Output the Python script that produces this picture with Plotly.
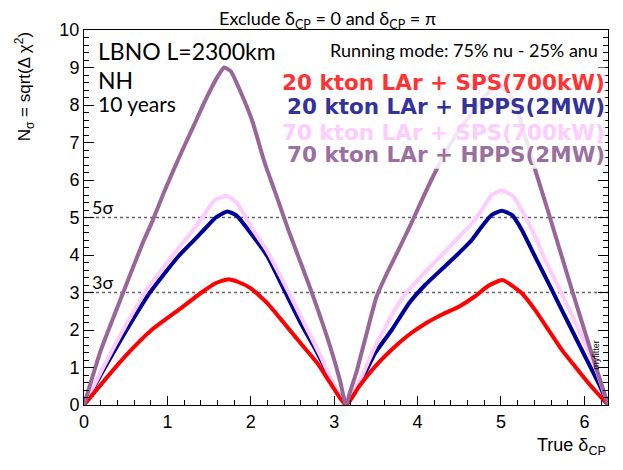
import plotly.graph_objects as go

PI = 3.14159
TWO_PI = 6.28319

# 20 kton LAr + SPS(700kW)
x_red = [0, 0.25, 0.49, 0.81, 1.13, 1.41, 1.57, 1.72, 1.85, 2.0, 2.2, 2.4, 2.6, 2.8, 2.95, PI,
         3.3, 3.5, 3.7, 3.9, 4.1, 4.3, 4.5, 4.69, 4.85, 5.02, 5.25, 5.41, 5.57, 5.73, 5.89, 6.05, TWO_PI]
y_red = [0, 0.67, 1.29, 2.0, 2.53, 3.0, 3.24, 3.35, 3.28, 3.11, 2.71, 2.18, 1.64, 1.11, 0.6, 0,
         0.5, 1.05, 1.5, 1.88, 2.18, 2.42, 2.63, 2.9, 3.18, 3.33, 2.98, 2.53, 2.0, 1.47, 1.02, 0.58, 0]

# 20 kton LAr + HPPS(2MW)
x_blue = [0, 0.25, 0.51, 0.79, 1.13, 1.3, 1.45, 1.58, 1.72, 1.83, 2.0, 2.2, 2.4, 2.6, 2.8, 2.96, PI,
          3.33, 3.49, 3.69, 3.9, 4.09, 4.29, 4.49, 4.65, 4.77, 4.89, 5.01, 5.13, 5.25, 5.37, 5.49,
          5.61, 5.73, 5.89, 6.05, 6.17, TWO_PI]
y_blue = [0, 1.0, 2.0, 3.0, 3.96, 4.35, 4.7, 5.0, 5.16, 5.05, 4.58, 3.96, 3.07, 2.18, 1.38, 0.67, 0,
          0.67, 1.38, 2.0, 2.72, 3.2, 3.62, 4.04, 4.4, 4.76, 5.07, 5.18, 5.07, 4.67, 4.13, 3.6,
          3.07, 2.53, 1.82, 1.11, 0.58, 0]

# 70 kton LAr + SPS(700kW)
x_pink = [0, 0.23, 0.47, 0.73, 1.07, 1.32, 1.42, 1.57, 1.72, 1.83, 2.0, 2.2, 2.44, 2.64, 2.84, 2.98, PI,
          3.33, 3.49, 3.61, 3.69, 3.85, 4.05, 4.29, 4.49, 4.65, 4.77, 4.89, 5.01, 5.15, 5.27, 5.41,
          5.53, 5.65, 5.81, 5.97, 6.13, TWO_PI]
y_pink = [0, 1.0, 2.0, 3.0, 4.0, 4.7, 5.0, 5.47, 5.57, 5.4, 4.76, 4.09, 3.07, 2.18, 1.29, 0.6, 0,
          0.76, 1.56, 2.05, 2.4, 2.95, 3.45, 4.0, 4.47, 4.84, 5.2, 5.6, 5.72, 5.56, 5.11, 4.49,
          3.87, 3.33, 2.58, 1.82, 1.02, 0]

# 70 kton LAr + HPPS(2MW)
x_purple = [0, 0.2, 0.47, 0.70, 0.81, 0.97, 1.14, 1.32, 1.46, 1.6, 1.68, 1.76, 1.86, 2.02, 2.16, 2.28,
            2.45, 2.72, 2.96, 3.07, PI, 3.19, 3.27, 3.37, 3.51, 3.63, 3.73, 3.85, 3.94, 4.09, 4.25,
            4.43, 4.62, 4.74, 4.86, 4.98, 5.08, 5.17, 5.29, 5.41, 5.56, 5.86, 6.07, TWO_PI]
y_purple = [0, 1.45, 3.0, 4.3, 4.85, 5.73, 6.6, 7.47, 8.15, 8.75, 9.0, 8.9, 8.44, 7.56, 6.5, 5.75,
            4.67, 3.07, 1.5, 0.65, 0, 0.35, 0.9, 1.75, 2.9, 3.5, 3.95, 4.5, 4.92, 5.65, 6.38,
            7.1, 7.7, 8.05, 8.35, 8.5, 8.35, 8.04, 7.16, 6.27, 5.2, 3.0, 1.5, 0]

labels = ['20 kton LAr + SPS(700kW)', '20 kton LAr + HPPS(2MW)',
          '70 kton LAr + SPS(700kW)', '70 kton LAr + HPPS(2MW)']
line_colors = ['#ff0000', '#000099', '#ffccff', '#996699']
text_colors = ['#ff3333', '#333399', '#ffccff', '#9a70a0']

sigma_levels = [5, 3]

fig = go.Figure()

series = [(x_blue, y_blue, 1), (x_pink, y_pink, 2), (x_red, y_red, 0), (x_purple, y_purple, 3)]
for xs, ys, i in series:
    fig.add_trace(go.Scatter(
        x=xs, y=ys, mode='lines', name=labels[i],
        line=dict(color=line_colors[i], width=4, shape='spline', smoothing=0.5),
        showlegend=False
    ))

# n-sigma reference lines
for s in sigma_levels:
    fig.add_shape(type='line', xref='x', yref='y', x0=0, x1=TWO_PI, y0=s, y1=s,
                  line=dict(color='#666666', width=1.5, dash='dot'), layer='below')
    fig.add_annotation(x=0.07, y=s, xref='x', yref='y', text=f'{s}σ', showarrow=False,
                       xanchor='left', yanchor='bottom', yshift=-2,
                       font=dict(family='Lato', size=18, color='black'))

# semi-transparent box behind legend text
fig.add_shape(type='rect', xref='paper', yref='paper', x0=0.374, x1=0.995, y0=0.63, y1=0.9,
              fillcolor='rgba(255,255,255,0.85)', line=dict(width=0), layer='above')

legend_y = [0.861, 0.795, 0.728, 0.667]
for i in range(4):
    fig.add_annotation(x=0.998, y=legend_y[i], xref='paper', yref='paper', text=f'<b>{labels[i]}</b>',
                       showarrow=False, xanchor='right', yanchor='middle',
                       font=dict(family='DejaVu Sans', size=21.5, color=text_colors[i]))

font_txt = 'Lato'
fig.add_annotation(x=0.022, y=0.945, xref='paper', yref='paper', text='LBNO L=2300km',
                   showarrow=False, xanchor='left', yanchor='middle',
                   font=dict(family=font_txt, size=23, color='black'))
fig.add_annotation(x=0.022, y=0.868, xref='paper', yref='paper', text='NH',
                   showarrow=False, xanchor='left', yanchor='middle',
                   font=dict(family=font_txt, size=23, color='black'))
fig.add_annotation(x=0.022, y=0.805, xref='paper', yref='paper', text='10 years',
                   showarrow=False, xanchor='left', yanchor='middle',
                   font=dict(family=font_txt, size=21, color='black'))
fig.add_annotation(x=0.985, y=0.947, xref='paper', yref='paper', text='Running mode: 75% nu - 25% anu',
                   showarrow=False, xanchor='right', yanchor='middle',
                   font=dict(family=font_txt, size=18, color='black'))
fig.add_annotation(x=0.465, y=1.028, xref='paper', yref='paper',
                   text='Exclude δ<sub>CP</sub> = 0 and δ<sub>CP</sub> = π',
                   showarrow=False, xanchor='center', yanchor='middle',
                   font=dict(family=font_txt, size=18, color='black'))
fig.add_annotation(x=-0.113, y=1.0, xref='paper', yref='paper',
                   text='N<sub>σ</sub> = sqrt(Δ χ<sup>2</sup>)', textangle=-90,
                   showarrow=False, xanchor='center', yanchor='top',
                   font=dict(family='Liberation Sans', size=17, color='black'))
fig.add_annotation(x=1.0, y=-0.11, xref='paper', yref='paper', text='True δ<sub>CP</sub>',
                   showarrow=False, xanchor='right', yanchor='middle',
                   font=dict(family='Liberation Sans', size=18, color='black'))
fig.add_annotation(x=0.978, y=0.135, xref='paper', yref='paper', text='myfitter', textangle=-90,
                   showarrow=False, xanchor='center', yanchor='middle',
                   font=dict(family='Liberation Sans', size=9, color='black'))

axis_font = dict(family='Liberation Sans', size=18, color='black')
fig.update_xaxes(range=[0, TWO_PI], tickvals=[0, 1, 2, 3, 4, 5, 6], ticks='inside', ticklen=9,
                 tickcolor='black', showline=True, linecolor='black', linewidth=1, mirror=True,
                 showgrid=False, zeroline=False, tickfont=axis_font, automargin=False,
                 minor=dict(dtick=0.2, ticks='inside', ticklen=5, tickcolor='black', showgrid=False))
fig.update_yaxes(range=[0, 10], dtick=1, ticks='inside', ticklen=10,
                 tickcolor='black', showline=True, linecolor='black', linewidth=1, mirror='ticks',
                 showgrid=False, zeroline=False, tickfont=axis_font, automargin=False,
                 minor=dict(dtick=0.2, ticks='inside', ticklen=5, tickcolor='black', showgrid=False))

# the page body adds an 8px offset, so margins are trimmed to keep the frame in place
fig.update_layout(
    width=623, height=470,
    margin=dict(l=76, r=23, t=22, b=73),
    paper_bgcolor='white', plot_bgcolor='white',
)

fig.write_html('out.html')
